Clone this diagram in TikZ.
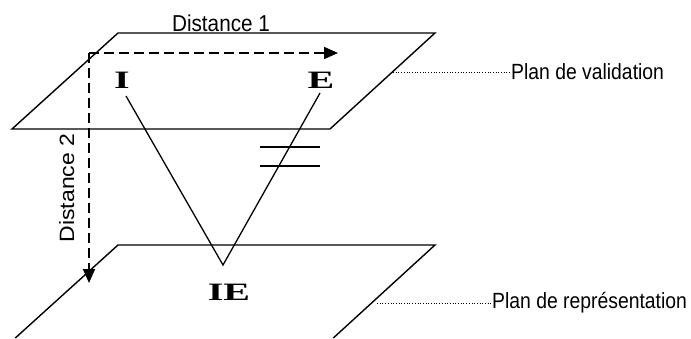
\documentclass[tikz,border=0pt]{standalone}
\usepackage{fontspec}
\setmainfont{Liberation Sans}
\newfontfamily\letterfont{Liberation Serif}
\usetikzlibrary{arrows.meta}
\begin{document}
\begin{tikzpicture}[x=1pt,y=-1pt,
  plane/.style={line width=1.4pt,line join=miter},
  vline/.style={line width=1.3pt},
  dasharrow/.style={line width=1.8pt,dash pattern=on 10pt off 5pt,-{Triangle[length=14pt,width=12pt]}},
  leader/.style={line width=0.7pt,dotted},
  lbl/.style={font=\fontsize{22}{24}\selectfont,xscale=0.88,inner sep=0pt},
  dlbl/.style={font=\fontsize{23}{26}\selectfont,xscale=0.9,inner sep=0pt},
  letter/.style={font=\letterfont\bfseries\fontsize{25}{27}\selectfont,xscale=1.6,inner sep=0pt}]
\useasboundingbox (0,0) rectangle (691,338);
% planes
\draw[plane] (118,33) -- (435,33) -- (330,129) -- (12,129) -- cycle;
\draw[plane] (15.3,338) -- (118,245) -- (435,245) -- (333.3,338);
% letters
\node[letter] (I) at (122,80) {I};
\node[letter] (E) at (321,80) {E};
\node[letter] (IE) at (229,292) {IE};
\coordinate (Ibot) at (126,96);
\coordinate (Ebot) at (320,93);
\coordinate (apex) at (223,265);
\draw[vline] (Ibot) -- (apex) -- (Ebot);
% equal sign
\coordinate (eqA) at (260,147); \coordinate (eqB) at (320,147);
\coordinate (eqC) at (260,166); \coordinate (eqD) at (320,166);
\draw[line width=1.5pt] (eqA) -- (eqB);
\draw[line width=1.5pt] (eqC) -- (eqD);
% distances
\coordinate (O) at (89,53);
\coordinate (D1) at (338,53);
\coordinate (D2) at (89,283);
\draw[dasharrow] (O) -- (D1);
\draw[dasharrow] (O) -- (D2);
\node[dlbl,anchor=base] (d1) at (221,31.5) {Distance 1};
\node[dlbl,anchor=base,rotate=90] (d2) at (74,188) {Distance 2};
% plane labels
\node[lbl,anchor=west] (pv) at (511,72) {Plan de validation};
\node[lbl,anchor=west] (pr) at (492,303) {Plan de représentation};
\coordinate (pvL) at (393,72);
\coordinate (prL) at (377,303);
\draw[leader] (pvL) -- (pv.west);
\draw[leader] (prL) -- (pr.west);
\end{tikzpicture}
\end{document}
